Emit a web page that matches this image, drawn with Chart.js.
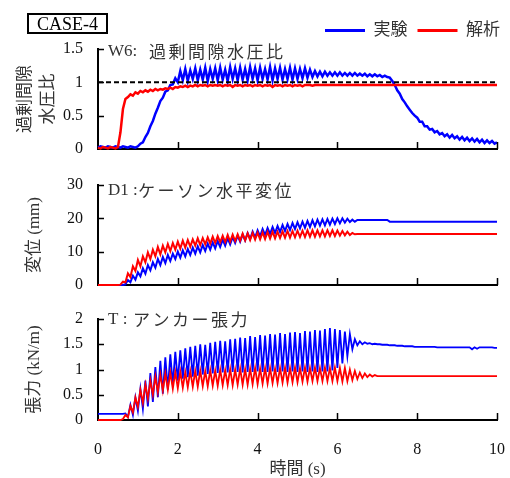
<!DOCTYPE html>
<html><head><meta charset="utf-8">
<script src="https://cdn.jsdelivr.net/npm/chart.js@4.4.1/dist/chart.umd.min.js"></script>
<style>
html,body{margin:0;padding:0;background:#fff;}
#wrap{position:relative;width:510px;height:478px;overflow:hidden;background:#fff;}
canvas{position:absolute;left:0;}
#case{position:absolute;left:27px;top:13px;width:77px;height:17px;border:2px solid #000;font:18px 'Liberation Serif',serif;line-height:18px;text-align:center;color:#000;}
</style></head><body>
<div id="wrap">
<canvas id="c1" width="510" height="160" style="top:0px"></canvas>
<canvas id="c2" width="510" height="137" style="top:160px"></canvas>
<canvas id="c3" width="510" height="181" style="top:297px"></canvas>
<div id="case">CASE-4</div>
</div>
<script>
// ---- data (sampled every timeStep seconds, t = 0 ... 10 s) ----
const timeStep = 0.0625;
const seriesNames = ['実験', '解析'];
const xTickValues = [0, 2, 4, 6, 8, 10];
const w6Ticks = [0, 0.5, 1, 1.5];
const d1Ticks = [0, 10, 20, 30];
const tTicks = [0, 0.5, 1, 1.5, 2];
const refLevel = 1;

// W6 excess pore pressure ratio
const w6Exp = [
0.02,0.04,0.03,0.02,0.04,0.03,0.02,0.04,0.03,0.02,0.04,0.03,0.02,0.04,0.03,0.02,
0.04,0.08,0.10,0.18,0.24,0.34,0.42,0.53,0.62,0.72,0.77,0.86,0.88,0.96,0.97,1.06,
1.00,1.17,1.03,1.20,1.02,1.18,1.05,1.21,1.03,1.19,1.04,1.22,1.02,1.20,1.05,1.21,
1.03,1.22,1.04,1.19,1.02,1.23,1.05,1.21,1.03,1.22,1.04,1.20,1.03,1.23,1.05,1.21,
1.03,1.22,1.05,1.20,1.04,1.23,1.03,1.21,1.05,1.22,1.04,1.20,1.05,1.22,1.04,1.21,
1.05,1.20,1.06,1.21,1.07,1.19,1.08,1.17,1.09,1.16,1.09,1.16,1.10,1.15,1.10,1.15,
1.10,1.15,1.10,1.14,1.10,1.14,1.10,1.14,1.10,1.13,1.10,1.13,1.09,1.12,1.09,1.12,
1.09,1.11,1.08,1.10,1.08,1.07,1.02,0.96,0.88,0.83,0.75,0.70,0.64,0.59,0.54,0.50,
0.47,0.41,0.41,0.34,0.34,0.29,0.30,0.25,0.27,0.22,0.24,0.19,0.22,0.17,0.21,0.16,
0.19,0.14,0.18,0.13,0.17,0.12,0.16,0.11,0.15,0.10,0.14,0.09,0.13,0.09,0.12,0.08,
0.10];
const w6Ana = [
0.02,0.01,0.03,0.02,0.01,0.03,0.02,0.01,0.03,0.25,0.60,0.75,0.78,0.82,0.80,0.85,
0.83,0.87,0.85,0.88,0.86,0.89,0.87,0.90,0.88,0.90,0.89,0.91,0.90,0.92,0.90,0.93,
0.92,0.94,0.93,0.95,0.93,0.95,0.94,0.96,0.94,0.96,0.95,0.96,0.94,0.96,0.95,0.96,
0.95,0.96,0.94,0.96,0.95,0.96,0.93,0.96,0.95,0.96,0.94,0.96,0.95,0.96,0.94,0.96,
0.95,0.96,0.94,0.96,0.95,0.96,0.93,0.96,0.95,0.96,0.94,0.96,0.95,0.96,0.94,0.96,
0.95,0.96,0.94,0.96,0.96,0.96,0.95,0.96,0.96,0.96,0.96,0.96,0.96,0.96,0.96,0.96,
0.96,0.96,0.96,0.96,0.96,0.96,0.96,0.96,0.96,0.96,0.96,0.96,0.96,0.96,0.96,0.96,
0.96,0.96,0.96,0.96,0.96,0.96,0.96,0.96,0.96,0.96,0.96,0.96,0.96,0.96,0.96,0.96,
0.96,0.96,0.96,0.96,0.96,0.96,0.96,0.96,0.96,0.96,0.96,0.96,0.96,0.96,0.96,0.96,
0.96,0.96,0.96,0.96,0.96,0.96,0.96,0.96,0.96,0.96,0.96,0.96,0.96,0.96,0.96,0.96,
0.96];

// D1 caisson horizontal displacement (mm)
const d1Exp = [
0,0,0,0,0,0,0,0,0,0,0,0.2,1.5,0.8,2.8,1.6,
3.8,2.6,5.0,3.4,6.0,4.4,6.8,5.2,7.8,6.0,8.4,6.6,9.0,7.2,9.4,7.8,
10.0,8.2,10.4,8.6,10.8,9.0,11.2,9.4,11.6,9.8,12.0,10.2,12.4,10.6,12.8,11.0,
13.2,11.4,13.6,11.8,14.0,12.2,14.4,12.6,14.8,13.0,15.2,13.4,15.6,13.8,16.0,14.2,
16.4,14.6,16.8,15.0,17.1,15.3,17.4,15.6,17.7,15.9,18.0,16.2,18.3,16.5,18.6,16.8,
18.8,17.0,19.0,17.2,19.2,17.4,19.4,17.6,19.6,17.8,19.7,17.9,19.8,18.1,19.9,18.3,
20.0,18.5,20.0,18.7,19.9,18.9,19.6,19.0,19.5,19.5,19.5,19.5,19.5,19.5,19.5,19.5,
19.5,19.5,19.5,19.5,19.5,19.0,19.0,19.0,19.0,19.0,19.0,19.0,19.0,19.0,19.0,19.0,
19.0,19.0,19.0,19.0,19.0,19.0,19.0,19.0,19.0,19.0,19.0,19.0,19.0,19.0,19.0,19.0,
19.0,19.0,19.0,19.0,19.0,19.0,19.0,19.0,19.0,19.0,19.0,19.0,19.0,19.0,19.0,19.0,
19.0];
const d1Ana = [
0,0,0,0,0,0,0,0,0,0.1,1.0,0.8,3.5,2.4,5.6,4.2,
7.5,5.6,8.6,6.8,9.8,7.8,10.6,8.6,11.4,9.2,11.8,9.8,12.3,10.2,12.6,10.6,
13.0,10.9,13.3,11.2,13.5,11.5,13.7,11.8,14.0,12.0,14.1,12.2,14.3,12.4,14.5,12.6,
14.7,12.8,14.8,12.9,15.0,13.0,15.1,13.2,15.2,13.3,15.4,13.4,15.5,13.5,15.6,13.6,
15.7,13.7,15.8,13.8,15.9,13.9,16.0,14.0,16.0,14.1,16.1,14.2,16.2,14.2,16.2,14.3,
16.3,14.4,16.3,14.4,16.4,14.5,16.4,14.5,16.4,14.6,16.4,14.6,16.4,14.7,16.4,14.7,
16.3,14.8,16.2,14.9,16.0,15.0,15.6,15.2,15.3,15.3,15.3,15.3,15.3,15.3,15.3,15.3,
15.3,15.3,15.3,15.3,15.3,15.3,15.3,15.3,15.3,15.3,15.3,15.3,15.3,15.3,15.3,15.3,
15.3,15.3,15.3,15.3,15.3,15.3,15.3,15.3,15.3,15.3,15.3,15.3,15.3,15.3,15.3,15.3,
15.3,15.3,15.3,15.3,15.3,15.3,15.3,15.3,15.3,15.3,15.3,15.3,15.3,15.3,15.3,15.3,
15.3];

// T anchor tension (kN/m)
const tExp = [
0.12,0.12,0.12,0.12,0.12,0.12,0.12,0.12,0.12,0.12,0.12,0.13,0.06,0.30,0.10,0.45,
0.18,0.62,0.22,0.78,0.27,0.93,0.36,1.05,0.45,1.17,0.52,1.24,0.60,1.30,0.70,1.35,
0.78,1.38,0.82,1.42,0.85,1.45,0.86,1.47,0.88,1.50,0.90,1.49,0.91,1.53,0.92,1.55,
0.93,1.57,0.94,1.56,0.94,1.60,0.95,1.61,0.95,1.63,0.94,1.62,0.95,1.66,0.95,1.64,
0.96,1.68,0.95,1.67,0.95,1.70,0.96,1.69,0.95,1.72,0.96,1.70,0.95,1.73,0.96,1.74,
0.95,1.72,0.96,1.76,0.95,1.75,0.96,1.78,0.95,1.77,0.96,1.80,0.96,1.82,0.98,1.80,
1.03,1.78,1.12,1.75,1.26,1.70,1.40,1.60,1.48,1.56,1.50,1.54,1.51,1.52,1.50,1.51,
1.50,1.50,1.49,1.49,1.49,1.48,1.48,1.48,1.47,1.47,1.47,1.46,1.46,1.46,1.46,1.45,
1.45,1.45,1.45,1.45,1.45,1.45,1.45,1.45,1.44,1.44,1.44,1.44,1.44,1.44,1.44,1.44,
1.44,1.44,1.44,1.44,1.44,1.44,1.40,1.44,1.41,1.44,1.44,1.44,1.44,1.44,1.44,1.43,
1.43];
const tAna = [
0,0,0,0,0,0,0,0,0,0,0.02,0.10,0.05,0.28,0.15,0.45,
0.26,0.60,0.34,0.70,0.42,0.78,0.50,0.86,0.55,0.90,0.58,0.92,0.60,0.94,0.62,0.95,
0.63,0.96,0.64,0.95,0.65,0.97,0.66,0.97,0.66,0.98,0.67,0.97,0.67,0.99,0.68,0.98,
0.68,1.00,0.69,0.99,0.69,1.01,0.69,1.00,0.70,1.02,0.70,1.01,0.70,1.02,0.71,1.03,
0.71,1.02,0.72,1.03,0.72,1.03,0.73,1.02,0.73,1.03,0.74,1.04,0.74,1.03,0.75,1.04,
0.75,1.03,0.76,1.04,0.76,1.03,0.77,1.04,0.77,1.03,0.77,1.04,0.77,1.03,0.77,1.04,
0.77,1.03,0.76,1.03,0.77,1.00,0.79,0.97,0.81,0.94,0.83,0.92,0.85,0.90,0.86,0.89,
0.87,0.87,0.87,0.87,0.87,0.87,0.87,0.87,0.87,0.87,0.87,0.87,0.87,0.87,0.87,0.87,
0.87,0.87,0.87,0.87,0.87,0.87,0.87,0.87,0.87,0.87,0.87,0.87,0.87,0.87,0.87,0.87,
0.87,0.87,0.87,0.87,0.87,0.87,0.87,0.87,0.87,0.87,0.87,0.87,0.87,0.87,0.87,0.87,
0.87];

// ---- styling / chart construction ----
const FONT = "'Liberation Serif', 'Noto Sans CJK JP', sans-serif";
const JFONT = "'Noto Sans CJK JP', sans-serif";
const BLUE = '#0000ff', RED = '#ff0000';

function pts(arr) { return arr.map((v, i) => ({x: i * timeStep, y: v})); }
function ds(label, arr, color, width, order) {
  return {label, data: pts(arr), borderColor: color, backgroundColor: color,
    borderWidth: width, pointRadius: 0, tension: 0, fill: false, order, clip: false};
}

const inTicks = {
  id: 'inTicks',
  afterDraw(chart) {
    const {ctx, chartArea: a, scales: {x, y}} = chart;
    ctx.save();
    ctx.strokeStyle = '#000'; ctx.lineWidth = 1.5;
    ctx.beginPath();
    y.ticks.forEach(t => {
      if (t.value === y.min) return;
      const py = Math.round(y.getPixelForValue(t.value)) + 0.5;
      ctx.moveTo(a.left, py); ctx.lineTo(a.left + 6, py);
    });
    x.ticks.forEach(t => {
      if (t.value === x.min) return;
      const px = Math.round(x.getPixelForValue(t.value)) + 0.5;
      ctx.moveTo(px, a.bottom); ctx.lineTo(px, a.bottom - 7);
    });
    ctx.stroke();
    ctx.restore();
  }
};
const panelTitle = {
  id: 'panelTitle',
  afterDraw(chart, args, opts) {
    const {ctx, chartArea: a} = chart;
    const y = a.top + opts.dy;
    ctx.save();
    ctx.fillStyle = '#333';
    ctx.textBaseline = 'middle';
    ctx.textAlign = 'left';
    ctx.font = '17px ' + FONT;
    ctx.fillText(opts.prefix, a.left + 10, y);
    ctx.font = '17px ' + JFONT;
    try { ctx.letterSpacing = '2.5px'; } catch (e) {}
    ctx.fillText(opts.text, a.left + opts.dx, y);
    ctx.restore();
  }
};
const legendShift = {
  id: 'legendShift',
  beforeDraw(chart) { if (chart.legend) chart.legend.right = chart.width; }
};

function yScale(tickArr, min, max, title) {
  return {
    type: 'linear', min, max,
    afterBuildTicks: s => { s.ticks = tickArr.map(v => ({value: v})); },
    afterFit: s => { s.width = 98; },
    grid: {display: false, drawTicks: true, tickLength: 15},
    border: {display: true, color: '#000', width: 2},
    ticks: {padding: 0, color: '#111', font: {family: FONT, size: 16}, callback: v => String(v)},
    title
  };
}
function xScale(showLabels, height, title) {
  return {
    type: 'linear', min: xTickValues[0], max: xTickValues[xTickValues.length - 1],
    afterBuildTicks: s => { s.ticks = xTickValues.map(v => ({value: v})); },
    afterFit: s => { s.height = height; },
    grid: {display: false, drawTicks: true, tickLength: 15},
    border: {display: true, color: '#000', width: 2},
    ticks: {display: showLabels, padding: 5, color: '#111', maxRotation: 0, autoSkip: false,
      font: {family: FONT, size: 16}, callback: v => String(v)},
    title: title || {display: false}
  };
}
function yTitle(text, padTop) {
  return {display: true, text, color: '#333', font: {family: FONT, size: 17, lineHeight: 1.35},
    padding: {top: padTop, bottom: 0}};
}
const common = {responsive: false, animation: false, events: []};

new Chart(document.getElementById('c1'), {
  type: 'line',
  data: {datasets: [
    ds(seriesNames[0], w6Exp, BLUE, 2.5, 3),
    ds(seriesNames[1], w6Ana, RED, 2.5, 2),
    {label: 'ref', data: [{x: xTickValues[0], y: refLevel}, {x: xTickValues[xTickValues.length - 1], y: refLevel}],
      borderColor: '#000', borderWidth: 2, borderDash: [5, 3], pointRadius: 0, order: 1}
  ]},
  options: Object.assign({}, common, {
    layout: {padding: {top: 12, left: 0, right: 13, bottom: 0}},
    scales: {x: xScale(false, 11), y: yScale(w6Ticks, 0, 1.5, yTitle(['過剰間隙', '水圧比'], 14))},
    plugins: {
      tooltip: {enabled: false},
      legend: {display: true, position: 'top', align: 'end',
        labels: {usePointStyle: true, pointStyle: 'line', pointStyleWidth: 40, padding: 10,
          color: '#333', font: {family: FONT, size: 17},
          filter: item => item.datasetIndex < 2,
          sort: (a, b) => a.datasetIndex - b.datasetIndex,
          generateLabels(chart) {
            const items = Chart.defaults.plugins.legend.labels.generateLabels(chart);
            items.forEach(it => { it.lineWidth = 3; it.pointStyle = 'line'; });
            return items;
          }}},
      panelTitle: {prefix: 'W6:', text: '過剰間隙水圧比', dx: 51, dy: 3}
    }
  }),
  plugins: [inTicks, panelTitle, legendShift]
});

new Chart(document.getElementById('c2'), {
  type: 'line',
  data: {datasets: [ds(seriesNames[0], d1Exp, BLUE, 2, 2), ds(seriesNames[1], d1Ana, RED, 2, 1)]},
  options: Object.assign({}, common, {
    layout: {padding: {top: 25, left: 0, right: 13, bottom: 0}},
    scales: {x: xScale(false, 12), y: yScale(d1Ticks, 0, 30, yTitle('変位 (mm)', 23.5))},
    plugins: {tooltip: {enabled: false}, legend: {display: false},
      panelTitle: {prefix: 'D1 :', text: 'ケーソン水平変位', dx: 40, dy: 6}}
  }),
  plugins: [inTicks, panelTitle]
});

new Chart(document.getElementById('c3'), {
  type: 'line',
  data: {datasets: [ds(seriesNames[0], tExp, BLUE, 1.8, 2), ds(seriesNames[1], tAna, RED, 1.8, 1)]},
  options: Object.assign({}, common, {
    layout: {padding: {top: 22, left: 0, right: 13, bottom: 0}},
    scales: {
      x: xScale(true, 58, {display: true, text: '時間 (s)', color: '#333',
        font: {family: FONT, size: 17, lineHeight: 0.95}, padding: {top: 0, bottom: 0}}),
      y: yScale(tTicks, 0, 2, yTitle('張力 (kN/m)', 23.5))
    },
    plugins: {tooltip: {enabled: false}, legend: {display: false},
      panelTitle: {prefix: 'T :', text: 'アンカー張力', dx: 35, dy: 1}}
  }),
  plugins: [inTicks, panelTitle]
});
</script>
</body></html>
